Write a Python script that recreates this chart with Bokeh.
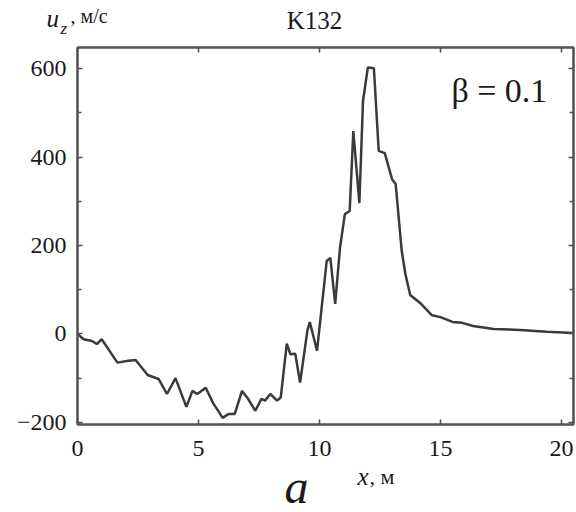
from bokeh.plotting import figure
from bokeh.layouts import column
from bokeh.models import LinearAxis, FixedTicker, Range1d, CustomJSTickFormatter
from bokeh.core.properties import value
from bokeh.embed import file_html
from bokeh.resources import INLINE

# Data
x_m = [0, 0.25, 0.6, 0.8, 1.0, 1.65, 2.1, 2.4, 2.9, 3.35, 3.7, 4.05, 4.5, 4.75, 4.95,
       5.3, 5.6, 6.0, 6.25, 6.5, 6.8, 7.05, 7.35, 7.6, 7.75, 7.97, 8.25, 8.4, 8.65,
       8.8, 9.0, 9.2, 9.5, 9.6, 9.9, 10.3, 10.45, 10.65, 10.85, 11.05, 11.25, 11.4,
       11.65, 11.8, 12.0, 12.25, 12.45, 12.7, 13.0, 13.15, 13.4, 13.55, 13.75, 14.2,
       14.65, 15.0, 15.5, 15.9, 16.35, 17.2, 18.3, 19.4, 20.5]
uz = [0, -12, -16, -23, -12, -65, -61, -59, -93, -102, -136, -100, -165, -129, -136,
      -122, -156, -190, -181, -181, -129, -147, -174, -147, -151, -136, -151, -144, -22,
      -46, -45, -110, 7, 27, -38, 165, 172, 68, 195, 271, 278, 459,
      296, 527, 603, 601, 414, 409, 350, 339, 188, 136, 88, 68,
      42, 38, 27, 25, 18, 11, 9, 5, 2]

x_ticks = [0, 5, 10, 15, 20]
y_ticks = [-200, 0, 200, 400, 600]
y_minor = [-100, 100, 300, 500]

title_text = "K132"
ylab_main = "u"
ylab_sub = "z"
ylab_unit = ", \u043c/\u0441"
xlab_main = "x"
xlab_unit = ", \u043c"
beta_text = "\u03b2 = 0.1"
panel_text = "a"

SERIF = "Liberation Serif"
FRAME = "#505050"
TXT = "#1a1a1a"
W = 576


def text_strip(h):
    f = figure(width=W, height=h, output_backend="svg", toolbar_location=None,
               x_range=Range1d(0, W), y_range=Range1d(h, 0),
               x_axis_type=None, y_axis_type=None, title=None,
               min_border_left=0, min_border_right=0, min_border_top=0, min_border_bottom=0)
    f.grid.visible = False
    f.outline_line_color = None
    f.frame_align = False
    return f


def put(f, x, y, t, size, italic=False, align="left", baseline="alphabetic"):
    f.text(x=[x], y=[y], text=[t], text_font=value(SERIF), text_font_size=value(size),
           text_font_style="italic" if italic else "normal",
           text_align=align, text_baseline=baseline, text_color=TXT)


# header strip
HEAD_H = 44
head = text_strip(HEAD_H)
put(head, 46, 18, ylab_main, "25px", italic=True)
put(head, 60, 28, ylab_sub, "17px", italic=True)
put(head, 70, 15, ylab_unit, "20px")
put(head, 314, 20, title_text, "25px", align="center")

# main chart
MAIN_H = 424
p = figure(width=W, height=MAIN_H, output_backend="svg", toolbar_location=None,
           x_range=Range1d(0, 20.5), y_range=Range1d(-205, 648),
           min_border_left=77, min_border_right=3, min_border_top=3, min_border_bottom=44)
p.grid.visible = False
p.outline_line_color = FRAME
p.outline_line_width = 2

p.line(x_m, uz, line_color="#3a3a3a", line_width=2.5)


def style(ax, labels=True):
    ax.axis_line_color = FRAME
    ax.axis_line_width = 2
    ax.major_tick_in = 5
    ax.major_tick_out = 0
    ax.minor_tick_in = 4
    ax.minor_tick_out = 0
    ax.major_tick_line_color = FRAME
    ax.minor_tick_line_color = FRAME
    ax.major_tick_line_width = 1.5
    ax.minor_tick_line_width = 1.5
    ax.major_label_text_font = SERIF
    ax.major_label_text_font_size = "24px"
    ax.major_label_text_color = TXT
    if not labels:
        ax.formatter = CustomJSTickFormatter(code="return ''")
        ax.major_label_text_font_size = "0px"
        ax.major_label_standoff = 0


xa = p.xaxis[0]
xa.ticker = FixedTicker(ticks=x_ticks)
style(xa)
xa.major_label_standoff = 16

ya = p.yaxis[0]
ya.ticker = FixedTicker(ticks=y_ticks, minor_ticks=y_minor)
style(ya)
ya.major_label_standoff = 11

top = LinearAxis(ticker=FixedTicker(ticks=x_ticks))
style(top, labels=False)
p.add_layout(top, "above")

right = LinearAxis(ticker=FixedTicker(ticks=y_ticks, minor_ticks=y_minor))
style(right, labels=False)
p.add_layout(right, "right")

# in-plot annotation
p.text(x=[19.42], y=[551], text=[beta_text], text_font=value(SERIF),
       text_font_size=value("34px"), text_align="right", text_baseline="middle",
       text_color=TXT)

# footer strip
FOOT_H = 512 - HEAD_H - MAIN_H
foot = text_strip(FOOT_H)
put(foot, 357, 8, xlab_main, "25px", italic=True)
put(foot, 369, 8, xlab_unit, "22px")
put(foot, 296, 18, panel_text, "48px", italic=True, align="center")

layout = column(head, p, foot, spacing=0)
open("out.html", "w").write(file_html(layout, INLINE))
